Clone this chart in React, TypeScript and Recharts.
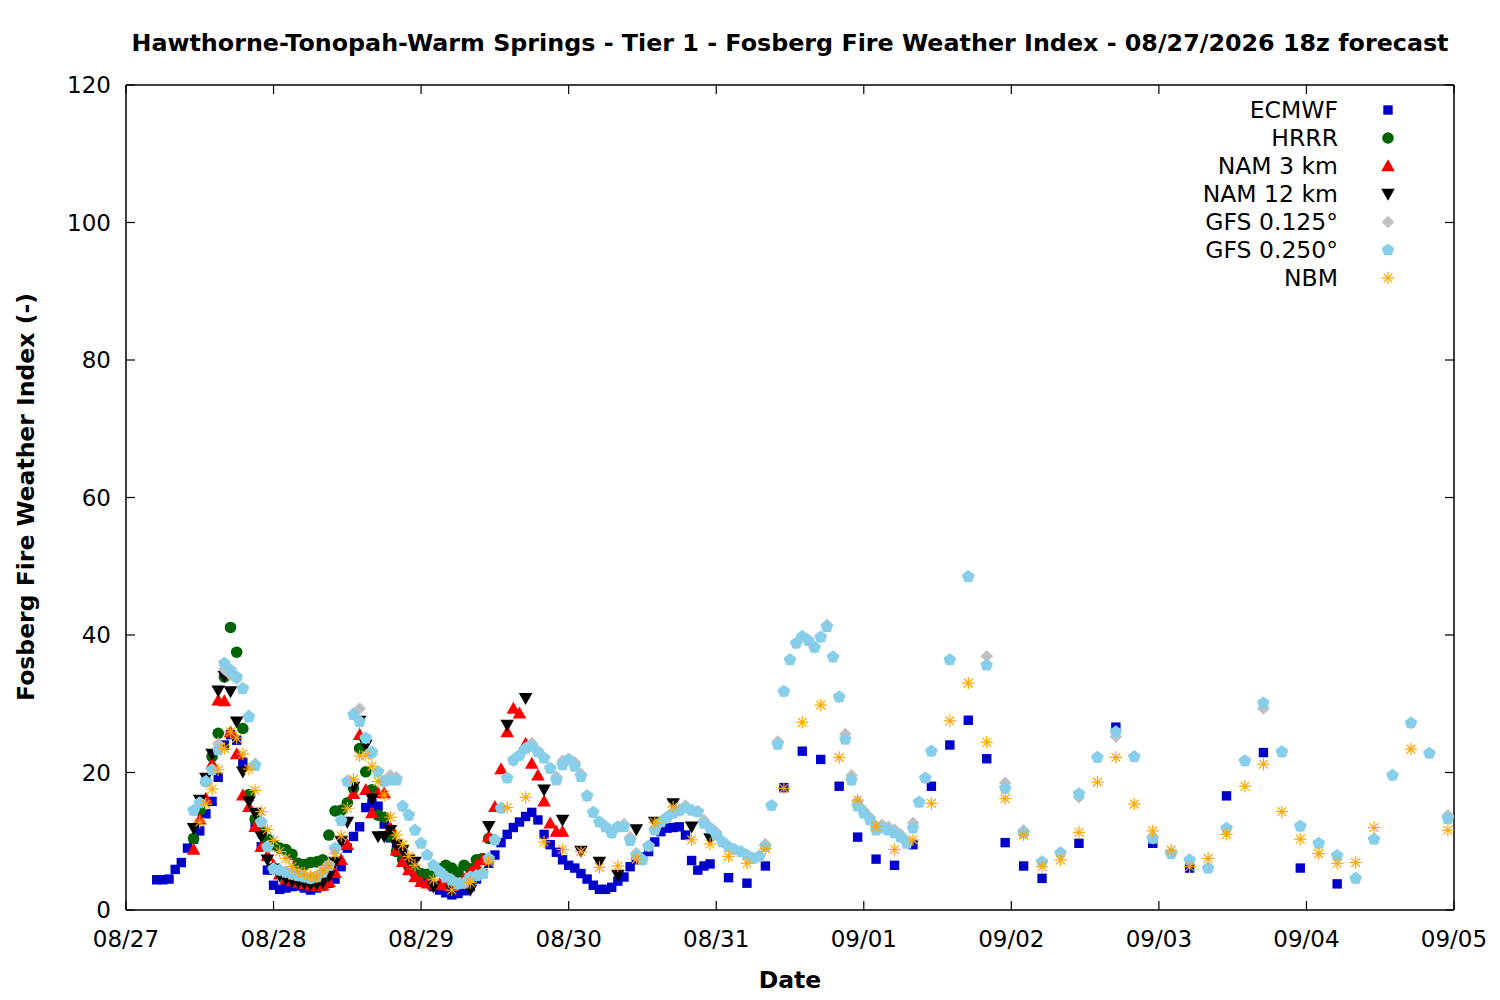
import React from 'react';
import { ScatterChart, Scatter, XAxis, YAxis } from 'recharts';

const FONT = '"DejaVu Sans", Verdana, sans-serif';

// hours since 08/27 00 (local); tick labels
const dateTicks = [0, 24, 48, 72, 96, 120, 144, 168, 192, 216];
const dateLabels = ['08/27', '08/28', '08/29', '08/30', '08/31', '09/01', '09/02', '09/03', '09/04', '09/05'];
const valueTicks = [0, 20, 40, 60, 80, 100, 120];

const seriesNames = ['ECMWF', 'HRRR', 'NAM 3 km', 'NAM 12 km', 'GFS 0.125°', 'GFS 0.250°', 'NBM'];
const seriesColors = ['#0000cc', '#006400', '#ff0000', '#000000', '#c0c0c0', '#87ceeb', '#ffa500'];

// [hour, value]
const ecmwf = [
  [5, 4.4], [6, 4.4], [7, 4.5], [8, 5.9], [9, 6.9], [10, 9.0], [11, 10.3], [12, 11.5], [13, 14.0], [14, 15.8],
  [15, 19.3], [16, 24.0], [17, 25.5], [18, 24.7], [19, 21.5], [20, 16.5], [21, 12.5], [22, 9.2], [23, 5.8], [24, 3.6],
  [25, 3.0], [26, 3.2], [27, 3.4], [28, 3.5], [29, 3.2], [30, 2.9], [31, 3.2], [32, 3.5], [33, 3.9], [34, 4.5],
  [35, 6.3], [36, 9.0], [37, 10.7], [38, 12.1], [39, 14.9], [40, 15.5], [41, 15.1], [42, 12.5], [43, 10.5], [44, 9.2],
  [45, 8.2], [46, 7.0], [47, 5.5], [48, 4.5], [49, 3.9], [50, 3.4], [51, 2.9], [52, 2.5], [53, 2.2], [54, 2.4],
  [55, 2.8], [56, 3.4], [57, 4.5], [58, 5.3], [59, 6.8], [60, 8.0], [61, 9.8], [62, 11.0], [63, 12.0], [64, 12.8],
  [65, 13.6], [66, 14.2], [67, 13.1], [68, 11.0], [69, 9.5], [70, 8.4], [71, 7.3], [72, 6.5], [73, 6.1], [74, 5.3],
  [75, 4.5], [76, 3.6], [77, 3.0], [78, 3.0], [79, 3.3], [80, 4.2], [81, 4.8], [82, 6.3], [83, 7.3], [84, 7.7],
  [85, 8.5], [86, 9.9], [87, 11.4], [88, 11.9], [89, 12.0], [90, 12.1], [91, 10.9], [92, 7.2], [93, 5.8], [94, 6.4],
  [95, 6.7], [98, 4.7], [101, 3.9], [104, 6.4], [107, 17.8], [110, 23.1], [113, 21.9], [116, 18.0], [119, 10.6], [122, 7.4],
  [125, 6.5], [128, 9.5], [131, 18.0], [134, 24.0], [137, 27.6], [140, 22.0], [143, 9.8], [146, 6.4], [149, 4.6], [155, 9.7],
  [161, 26.6], [167, 9.7], [173, 6.1], [179, 16.6], [185, 22.9], [191, 6.1], [197, 3.8],
];

const hrrr = [
  [11, 10.4], [12, 14.5], [13, 18.7], [14, 22.3], [15, 25.7], [16, 33.9], [17, 41.1], [18, 37.5], [19, 26.4], [20, 16.8],
  [21, 13.2], [22, 11.6], [23, 10.3], [24, 9.5], [25, 9.0], [26, 8.8], [27, 8.1], [28, 6.8], [29, 6.6], [30, 6.9],
  [31, 7.0], [32, 7.3], [33, 10.9], [34, 14.4], [35, 14.5], [36, 15.6], [37, 17.7], [38, 23.5], [39, 20.1], [40, 17.5],
  [41, 13.8], [42, 13.5], [43, 10.7], [44, 8.5], [45, 7.3], [46, 6.3], [47, 5.8], [48, 5.3], [49, 5.2], [50, 5.5],
  [51, 6.0], [52, 6.5], [53, 6.1], [54, 5.5], [55, 6.5], [56, 6.0], [57, 7.3], [58, 7.5], [59, 10.4],
];

const nam3 = [
  [11, 8.8], [12, 13.2], [13, 16.2], [14, 21.3], [15, 30.5], [16, 30.4], [17, 25.9], [18, 22.7], [19, 16.7], [20, 15.0],
  [21, 12.1], [22, 9.2], [23, 7.9], [24, 6.5], [25, 5.2], [26, 4.5], [27, 4.2], [28, 4.0], [29, 3.8], [30, 3.6],
  [31, 3.5], [32, 3.6], [33, 4.1], [34, 5.4], [35, 7.3], [36, 9.5], [37, 16.9], [38, 25.5], [39, 17.5], [40, 14.1],
  [41, 17.0], [42, 17.0], [43, 12.0], [44, 8.7], [45, 7.0], [46, 5.8], [47, 4.8], [48, 4.1], [49, 3.9], [50, 3.7],
  [51, 3.8], [52, 3.6], [53, 3.5], [54, 3.8], [55, 4.5], [56, 5.5], [57, 6.5], [58, 7.3], [59, 10.7], [60, 15.0],
  [61, 20.5], [62, 25.9], [63, 29.3], [64, 28.6], [65, 24.2], [66, 21.3], [67, 19.6], [68, 15.8], [69, 12.6], [70, 11.4],
  [71, 11.4],
];

const nam12 = [
  [11, 11.9], [12, 16.0], [13, 19.2], [14, 22.7], [15, 31.9], [16, 34.0], [17, 31.8], [18, 27.4], [19, 20.1], [20, 15.8],
  [21, 14.1], [22, 10.7], [23, 7.3], [24, 6.0], [25, 5.0], [26, 4.5], [27, 4.2], [28, 4.0], [29, 3.9], [30, 3.7],
  [31, 3.8], [32, 4.0], [33, 5.0], [34, 7.0], [35, 10.0], [36, 12.8], [37, 17.9], [38, 27.5], [39, 24.0], [40, 16.2],
  [41, 10.7], [42, 10.7], [43, 11.6], [44, 9.5], [45, 8.7], [46, 7.3], [47, 7.0], [50, 3.4], [53, 2.9], [56, 2.9],
  [59, 12.2], [62, 26.9], [65, 30.8], [68, 17.5], [71, 13.1], [74, 8.6], [77, 7.0], [80, 5.1], [83, 11.7], [86, 12.8],
  [89, 15.5], [92, 12.1], [95, 10.4],
];

const gfs250 = [
  [11, 14.5], [12, 15.6], [13, 18.7], [14, 20.4], [15, 23.3], [16, 35.9], [17, 34.9], [18, 33.9], [19, 32.2], [20, 28.1],
  [21, 21.0], [22, 12.8], [23, 9.2], [24, 6.0], [25, 5.8], [26, 5.5], [27, 5.2], [28, 5.0], [29, 4.8], [30, 4.6],
  [31, 4.8], [32, 5.5], [33, 6.5], [34, 9.0], [35, 13.0], [36, 18.7], [37, 28.4], [38, 27.4], [39, 25.0], [40, 23.0],
  [41, 20.1], [42, 18.7], [43, 18.9], [44, 18.9], [45, 15.1], [46, 13.8], [47, 11.6], [48, 9.7], [49, 8.0], [50, 6.5],
  [51, 5.6], [52, 4.8], [53, 4.3], [54, 3.8], [55, 3.9], [56, 4.8], [57, 5.0], [58, 5.3], [59, 7.5], [60, 10.2],
  [61, 14.8], [62, 19.2], [63, 21.8], [64, 22.5], [65, 23.5], [66, 23.8], [67, 23.0], [68, 22.1], [69, 20.6], [70, 18.9],
  [71, 21.1], [72, 21.9], [73, 20.9], [74, 19.4], [75, 16.6], [76, 14.2], [77, 12.8], [78, 12.1], [79, 11.2], [80, 12.1],
  [81, 12.1], [82, 10.1], [83, 8.0], [84, 7.3], [85, 9.3], [86, 11.6], [87, 12.8], [88, 13.5], [89, 14.1], [90, 14.5],
  [91, 14.8], [92, 14.5], [93, 14.3], [94, 12.6], [95, 11.9], [96, 10.9], [97, 9.9], [98, 9.2], [99, 8.8], [100, 8.5],
  [101, 8.0], [102, 7.5], [103, 7.8], [104, 9.2], [105, 15.2], [106, 24.1], [107, 31.8], [108, 36.4], [109, 38.8], [110, 39.8],
  [111, 39.2], [112, 38.2], [113, 39.7], [114, 41.2], [115, 36.8], [116, 31.0], [117, 24.8], [118, 18.9], [119, 15.1], [120, 14.1],
  [121, 13.1], [122, 11.6], [123, 11.9], [124, 11.6], [125, 11.2], [126, 10.6], [127, 9.7], [128, 11.9], [129, 15.7], [130, 19.2],
  [131, 23.1], [134, 36.4], [137, 48.5], [140, 35.6], [143, 17.7], [146, 11.2], [149, 7.0], [152, 8.3], [155, 16.9], [158, 22.2],
  [161, 25.9], [164, 22.3], [167, 10.4], [170, 8.2], [173, 7.3], [176, 6.1], [179, 11.9], [182, 21.7], [185, 30.1], [188, 23.0],
  [191, 12.2], [194, 9.7], [197, 7.9], [200, 4.6], [203, 10.3], [206, 19.6], [209, 27.2], [212, 22.8], [215, 13.3],
];

const gfs125 = [
  [11, 14.5], [12, 15.6], [13, 18.7], [14, 20.4], [15, 24.2], [16, 35.0], [17, 34.2], [18, 33.6], [19, 32.2], [20, 28.3],
  [21, 21.3], [22, 12.8], [23, 9.2], [24, 6.0], [25, 5.8], [26, 5.5], [27, 5.2], [28, 5.0], [29, 4.8], [30, 4.6],
  [31, 4.8], [32, 5.5], [33, 6.5], [34, 9.0], [35, 13.0], [36, 18.7], [37, 28.6], [38, 29.3], [39, 25.0], [40, 22.7],
  [41, 20.1], [42, 18.7], [43, 19.6], [44, 19.3], [45, 15.1], [46, 13.8], [47, 11.6], [48, 9.7], [49, 8.0], [50, 6.5],
  [51, 5.6], [52, 4.8], [53, 4.3], [54, 3.8], [55, 3.9], [56, 4.8], [57, 5.0], [58, 5.3], [59, 7.5], [60, 10.2],
  [61, 14.8], [62, 19.2], [63, 21.7], [64, 22.5], [65, 23.5], [66, 24.3], [67, 23.0], [68, 22.1], [69, 20.6], [70, 19.4],
  [71, 21.7], [72, 21.9], [73, 21.5], [74, 19.8], [75, 16.6], [76, 14.2], [77, 12.8], [78, 12.1], [79, 11.2], [80, 12.1],
  [81, 12.5], [82, 10.6], [83, 8.3], [84, 7.3], [85, 9.3], [86, 11.9], [87, 12.8], [88, 13.5], [89, 14.1], [90, 14.5],
  [91, 15.2], [92, 14.5], [93, 14.3], [94, 13.1], [95, 11.9], [96, 11.3], [97, 9.9], [98, 9.2], [99, 8.8], [100, 8.5],
  [101, 8.0], [102, 7.5], [103, 7.8], [104, 9.6], [105, 15.2], [106, 24.5], [107, 31.8], [108, 36.4], [109, 38.8], [110, 39.8],
  [111, 39.2], [112, 38.2], [113, 39.7], [114, 41.5], [115, 36.8], [116, 31.0], [117, 25.6], [118, 19.6], [119, 15.8], [120, 14.5],
  [121, 13.5], [122, 12.2], [123, 12.4], [124, 12.1], [125, 11.7], [126, 11.0], [127, 10.0], [128, 12.7], [129, 15.7], [130, 19.2],
  [131, 23.1], [134, 36.4], [137, 48.5], [140, 36.9], [143, 18.5], [146, 11.6], [149, 7.0], [152, 8.3], [155, 16.4], [158, 22.2],
  [161, 25.2], [164, 22.3], [167, 10.4], [170, 8.2], [173, 7.3], [176, 6.1], [179, 11.9], [182, 21.7], [185, 29.3], [188, 23.0],
  [191, 12.2], [194, 9.7], [197, 8.0], [200, 4.6], [203, 10.3], [206, 19.6], [209, 27.2], [212, 22.8], [215, 13.8],
];

const nbm = [
  [12, 12.8], [13, 15.4], [14, 17.6], [15, 20.4], [16, 23.5], [17, 25.9], [18, 25.0], [19, 22.7], [20, 20.5], [21, 17.4],
  [22, 14.3], [23, 11.7], [24, 10.1], [25, 8.5], [26, 7.5], [27, 6.3], [28, 5.6], [29, 5.3], [30, 5.0], [31, 4.8],
  [32, 5.8], [33, 6.5], [34, 8.2], [35, 10.8], [36, 14.8], [37, 19.0], [38, 22.4], [39, 22.5], [40, 20.9], [41, 18.7],
  [42, 16.7], [43, 13.5], [44, 10.9], [45, 9.5], [46, 7.8], [47, 6.5], [50, 4.4], [53, 2.9], [56, 4.0], [59, 7.0],
  [62, 14.9], [65, 16.4], [68, 9.9], [71, 8.8], [74, 8.5], [77, 6.2], [80, 6.4], [83, 7.4], [86, 12.7], [89, 15.0],
  [92, 10.2], [95, 9.6], [98, 7.8], [101, 6.8], [104, 8.9], [107, 17.7], [110, 27.3], [113, 29.8], [116, 22.2], [119, 16.0],
  [122, 12.2], [125, 8.8], [128, 10.2], [131, 15.5], [134, 27.5], [137, 33.0], [140, 24.4], [143, 16.2], [146, 10.9], [149, 6.3],
  [152, 7.3], [155, 11.3], [158, 18.6], [161, 22.2], [164, 15.4], [167, 11.5], [170, 8.7], [173, 6.3], [176, 7.5], [179, 11.0],
  [182, 18.0], [185, 21.2], [188, 14.3], [191, 10.3], [194, 8.2], [197, 6.8], [200, 6.9], [203, 12.0], [209, 23.4], [215, 11.6],
];

const toPoints = (arr: number[][]) => arr.map(([h, v]) => ({ h, v }));

// ---------- marker shapes ----------
type MarkProps = { cx: number; cy: number; color: string };

const Square = ({ cx, cy, color }: MarkProps) => <rect x={cx - 4.7} y={cy - 4.7} width={9.4} height={9.4} fill={color} />;
const Dot = ({ cx, cy, color }: MarkProps) => <circle cx={cx} cy={cy} r={5.8} fill={color} />;
const TriUp = ({ cx, cy, color }: MarkProps) => (
  <polygon points={`${cx},${cy - 6.8} ${cx + 6.8},${cy + 5.2} ${cx - 6.8},${cy + 5.2}`} fill={color} />
);
const TriDown = ({ cx, cy, color }: MarkProps) => (
  <polygon points={`${cx},${cy + 6.8} ${cx + 6.8},${cy - 5.2} ${cx - 6.8},${cy - 5.2}`} fill={color} />
);
const Diamond = ({ cx, cy, color }: MarkProps) => (
  <polygon points={`${cx},${cy - 6.3} ${cx + 6.3},${cy} ${cx},${cy + 6.3} ${cx - 6.3},${cy}`} fill={color} />
);
const Pentagon = ({ cx, cy, color }: MarkProps) => {
  const r = 6.6;
  const pts = [0, 1, 2, 3, 4]
    .map((i) => {
      const a = -Math.PI / 2 + (i * 2 * Math.PI) / 5;
      return `${cx + r * Math.cos(a)},${cy + r * Math.sin(a)}`;
    })
    .join(' ');
  return <polygon points={pts} fill={color} />;
};
const Asterisk = ({ cx, cy, color }: MarkProps) => {
  const s = 6.2;
  const d = 4.4;
  return (
    <g stroke={color} strokeWidth={1.2}>
      <line x1={cx - s} y1={cy} x2={cx + s} y2={cy} />
      <line x1={cx} y1={cy - s} x2={cx} y2={cy + s} />
      <line x1={cx - d} y1={cy - d} x2={cx + d} y2={cy + d} />
      <line x1={cx - d} y1={cy + d} x2={cx + d} y2={cy - d} />
    </g>
  );
};

const markers = [Square, Dot, TriUp, TriDown, Diamond, Pentagon, Asterisk];
const seriesData = [ecmwf, hrrr, nam3, nam12, gfs125, gfs250, nbm];

// ---------- ticks ----------
const TICK = 9;
const labelStyle = { fontFamily: FONT, fontSize: 23, fill: '#000' };

const BottomTick = (props: any) => {
  const { x, y, payload } = props;
  const idx = dateTicks.indexOf(payload.value);
  return (
    <g>
      <line x1={x} y1={y} x2={x} y2={y - TICK} stroke="#000" strokeWidth={1.2} />
      <text x={x} y={y + 29} textAnchor="middle" dominantBaseline="central" {...labelStyle}>
        {idx >= 0 ? dateLabels[idx] : ''}
      </text>
    </g>
  );
};
const TopTick = (props: any) => {
  const { x, y } = props;
  return <line x1={x} y1={y} x2={x} y2={y + TICK} stroke="#000" strokeWidth={1.2} />;
};
const LeftTick = (props: any) => {
  const { x, y, payload } = props;
  return (
    <g>
      <line x1={x} y1={y} x2={x + TICK} y2={y} stroke="#000" strokeWidth={1.2} />
      <text x={x - 15} y={y} textAnchor="end" dominantBaseline="central" {...labelStyle}>
        {payload.value}
      </text>
    </g>
  );
};
const RightTick = (props: any) => {
  const { x, y } = props;
  return <line x1={x} y1={y} x2={x - TICK} y2={y} stroke="#000" strokeWidth={1.2} />;
};

const W = 1484;
const H = 984;
const axisLine = { stroke: '#000', strokeWidth: 1.5 };

export default function App() {
  return (
    <div style={{ position: 'relative', width: W, height: H, fontFamily: FONT, background: '#fff' }}>
      <ScatterChart width={W} height={H} margin={{ top: 67, right: 28, bottom: 52, left: 58 }}>
        <XAxis
          xAxisId={0}
          type="number"
          dataKey="h"
          domain={[0, 216]}
          ticks={dateTicks}
          interval={0}
          allowDataOverflow
          height={30}
          tickSize={0}
          tickMargin={0}
          tickLine={false}
          axisLine={axisLine}
          tick={<BottomTick />}
        />
        <XAxis
          xAxisId="top"
          orientation="top"
          type="number"
          dataKey="h"
          domain={[0, 216]}
          ticks={dateTicks}
          interval={0}
          allowDataOverflow
          height={10}
          tickSize={0}
          tickMargin={0}
          tickLine={false}
          axisLine={axisLine}
          tick={<TopTick />}
        />
        <YAxis
          yAxisId={0}
          type="number"
          dataKey="v"
          domain={[0, 120]}
          ticks={valueTicks}
          interval={0}
          allowDataOverflow
          width={60}
          tickSize={0}
          tickMargin={0}
          tickLine={false}
          axisLine={axisLine}
          tick={<LeftTick />}
        />
        <YAxis
          yAxisId="right"
          orientation="right"
          type="number"
          dataKey="v"
          domain={[0, 120]}
          ticks={valueTicks}
          interval={0}
          allowDataOverflow
          width={10}
          tickSize={0}
          tickMargin={0}
          tickLine={false}
          axisLine={axisLine}
          tick={<RightTick />}
        />
        {seriesData.map((arr, i) => {
          const Mark = markers[i];
          const color = seriesColors[i];
          return (
            <Scatter
              key={seriesNames[i]}
              name={seriesNames[i]}
              data={toPoints(arr)}
              xAxisId={0}
              yAxisId={0}
              isAnimationActive={false}
              shape={(p: any) => <Mark cx={p.cx} cy={p.cy} color={color} />}
            />
          );
        })}
      </ScatterChart>

      {/* title */}
      <div
        style={{
          position: 'absolute', left: 782, top: 35, transform: 'translate(-50%, -50%)',
          whiteSpace: 'nowrap', fontWeight: 'bold', fontSize: 23.8, color: '#000',
        }}
      >
        Hawthorne-Tonopah-Warm Springs - Tier 1 - Fosberg Fire Weather Index - 08/27/2026 18z forecast
      </div>
      {/* x label */}
      <div
        style={{
          position: 'absolute', left: 782, top: 972, transform: 'translate(-50%, -50%)',
          whiteSpace: 'nowrap', fontWeight: 'bold', fontSize: 23.5, color: '#000',
        }}
      >
        Date
      </div>
      {/* y label */}
      <div
        style={{
          position: 'absolute', left: 18, top: 489, transform: 'translate(-50%, -50%) rotate(-90deg)',
          whiteSpace: 'nowrap', fontWeight: 'bold', fontSize: 23.5, color: '#000',
        }}
      >
        Fosberg Fire Weather Index (-)
      </div>
      {/* legend */}
      {seriesNames.map((name, i) => {
        const Mark = markers[i];
        const cy = 102 + i * 28;
        return (
          <React.Fragment key={name}>
            <div
              style={{
                position: 'absolute', right: W - 1330, top: cy, transform: 'translateY(-50%)',
                whiteSpace: 'nowrap', fontSize: 23.5, color: '#000', lineHeight: '28px',
              }}
            >
              {name}
            </div>
            <svg style={{ position: 'absolute', left: 1370, top: cy - 10 }} width={20} height={20}>
              <Mark cx={10} cy={10} color={seriesColors[i]} />
            </svg>
          </React.Fragment>
        );
      })}
    </div>
  );
}
